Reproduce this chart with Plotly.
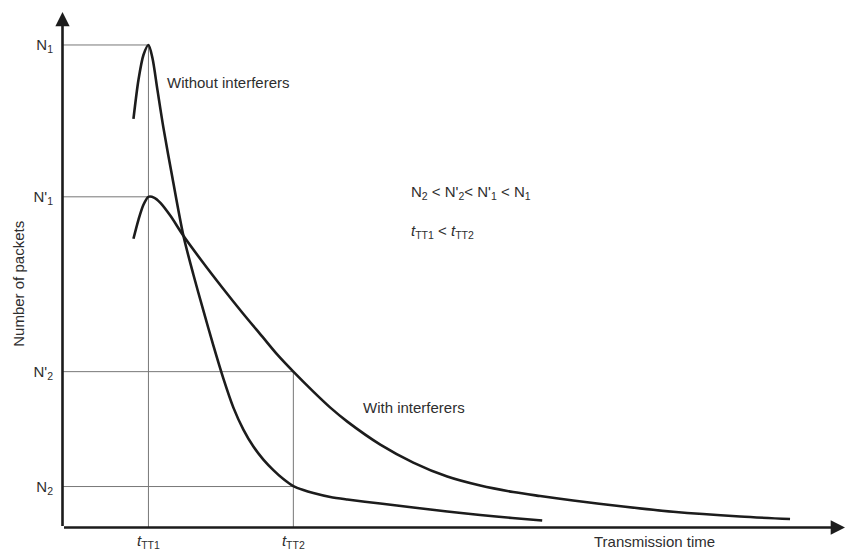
import plotly.graph_objects as go

# ---- data (x: transmission time units, y: number of packets units) ----
without_x = [71, 76, 81, 86, 90, 95, 101, 110, 121, 131, 141, 151, 161, 171, 181,
             191, 201, 211, 221, 231, 241, 251, 268, 285, 318, 351, 385, 418, 450, 480]
without_y = [409, 448, 473, 483, 470, 438, 400, 350, 292, 253, 217, 182, 149, 120, 98,
             81, 68, 57.5, 48.5, 41.5, 37.5, 34.5, 30.5, 28, 24, 20, 16, 12.5, 9.5, 7]

with_x = [71, 76, 81, 86, 92, 98, 108, 121, 140, 160, 180, 200, 215, 231, 251, 268, 285,
          318, 351, 385, 418, 451, 478, 511, 561, 611, 678, 728]
with_y = [289, 308, 323, 331, 330, 325, 312, 292, 266, 240, 215, 191, 173, 156, 136, 120, 106,
          83, 65, 51, 42, 35.5, 31.5, 27, 21, 15.8, 11, 8.5]

level_names = ["N<sub>2</sub>", "N'<sub>2</sub>", "N'<sub>1</sub>", "N<sub>1</sub>"]
level_values = [41, 156, 331, 483]
level_time = [231, 231, 86, 86]          # time at which each level is read

time_names = ["<i>t</i><sub>TT1</sub>", "<i>t</i><sub>TT2</sub>"]
time_values = [86, 231]
time_top = [483, 156]                    # level reached at each marked time

x_max = 783
y_max = 516

FONT = "Liberation Sans, Arial, sans-serif"
TXT = "#2e2e2e"
INK = "#1c1c1c"
GUIDE = "#777777"

# guide lines built from the level / time arrays
gx, gy = [], []
for v, t in zip(level_values, level_time):
    gx += [0, t, None]
    gy += [v, v, None]
for t, top in zip(time_values, time_top):
    gx += [t, t, None]
    gy += [0, top, None]

fig = go.Figure()
fig.add_trace(go.Scatter(x=gx, y=gy, mode="lines",
                         line=dict(color=GUIDE, width=1), hoverinfo="skip"))
fig.add_trace(go.Scatter(x=without_x, y=without_y, mode="lines",
                         line=dict(color=INK, width=2.6, shape="spline", smoothing=0.8),
                         name="Without interferers"))
fig.add_trace(go.Scatter(x=with_x, y=with_y, mode="lines",
                         line=dict(color=INK, width=2.6, shape="spline", smoothing=0.8),
                         name="With interferers"))

ann = []
# axes with arrow heads
ann.append(dict(x=x_max, y=0, ax=0, ay=0, xref="x", yref="y", axref="x", ayref="y",
                text="", showarrow=True, arrowhead=2, arrowsize=1.1, arrowwidth=2.6,
                arrowcolor=INK, standoff=0, startstandoff=0))
ann.append(dict(x=0, y=y_max, ax=0, ay=0, xref="x", yref="y", axref="x", ayref="y",
                text="", showarrow=True, arrowhead=2, arrowsize=1.1, arrowwidth=2.6,
                arrowcolor=INK, standoff=0, startstandoff=0))
# texts
ann.append(dict(x=103, y=445, xref="x", yref="y", text="Without interferers",
                showarrow=False, xanchor="left", yanchor="middle"))
ann.append(dict(x=299, y=120, xref="x", yref="y", text="With interferers",
                showarrow=False, xanchor="left", yanchor="middle"))
ann.append(dict(x=347, y=335, xref="x", yref="y",
                text="N<sub>2</sub> &lt; N'<sub>2</sub>&lt; N'<sub>1</sub> &lt; N<sub>1</sub>",
                showarrow=False, xanchor="left", yanchor="middle"))
ann.append(dict(x=347, y=296, xref="x", yref="y",
                text="<i>t</i><sub>TT1</sub> &lt; <i>t</i><sub>TT2</sub>",
                showarrow=False, xanchor="left", yanchor="middle"))
ann.append(dict(x=592, y=-13 / y_max, xref="x", yref="paper", text="Transmission time",
                showarrow=False, xanchor="center", yanchor="middle"))
ann.append(dict(x=-43 / x_max, y=244, xref="paper", yref="y", text="Number of packets",
                showarrow=False, textangle=-90, xanchor="center", yanchor="middle"))

fig.update_layout(
    width=845, height=550,
    margin=dict(l=62, r=0, t=12, b=22),
    paper_bgcolor="white", plot_bgcolor="white",
    showlegend=False,
    font=dict(family=FONT, size=15, color=TXT),
    annotations=ann,
    xaxis=dict(range=[-0.5, x_max], showgrid=False, zeroline=False, showline=False,
               tickmode="array", tickvals=time_values, ticktext=time_names,
               ticks="", ticklabelstandoff=2, tickfont=dict(size=15, color=TXT)),
    yaxis=dict(range=[-0.5, y_max], showgrid=False, zeroline=False, showline=False,
               tickmode="array", tickvals=level_values, ticktext=level_names,
               ticks="", ticklabelstandoff=8, tickfont=dict(size=15, color=TXT)),
)

fig.write_html("out.html")
